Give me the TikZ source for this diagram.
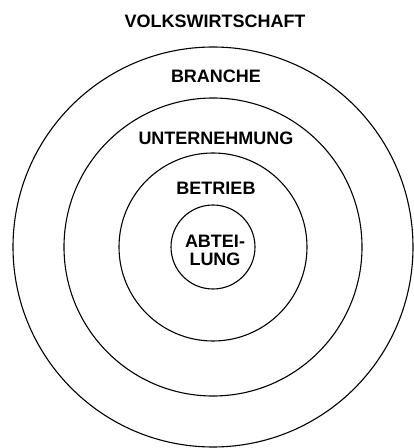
\documentclass[tikz,border=0pt]{standalone}
\usepackage{fontspec}
\setmainfont{Liberation Sans}
\usepackage{tikz}

\begin{document}
\begin{tikzpicture}[x=1pt,y=1pt,font=\fontsize{18}{18}\selectfont\bfseries]
  \useasboundingbox (0,0) rectangle (414,448);
  \tikzset{ring/.style={line width=1.1pt}}
  \coordinate (centre) at (213,201);
  \foreach \radius in {42,94,149,200}
    \draw[ring] (centre) circle (\radius);
  \node (volkswirtschaft) at (215,427) {VOLKSWIRTSCHAFT};
  \node (branche) at (216,372) {BRANCHE};
  \node (unternehmung) at (216,310) {UNTERNEHMUNG};
  \node (betrieb) at (216,260) {BETRIEB};
  \node[align=center,inner sep=0pt] (abteilung) at (215,198) {ABTEI-\\LUNG};
\end{tikzpicture}
\end{document}
